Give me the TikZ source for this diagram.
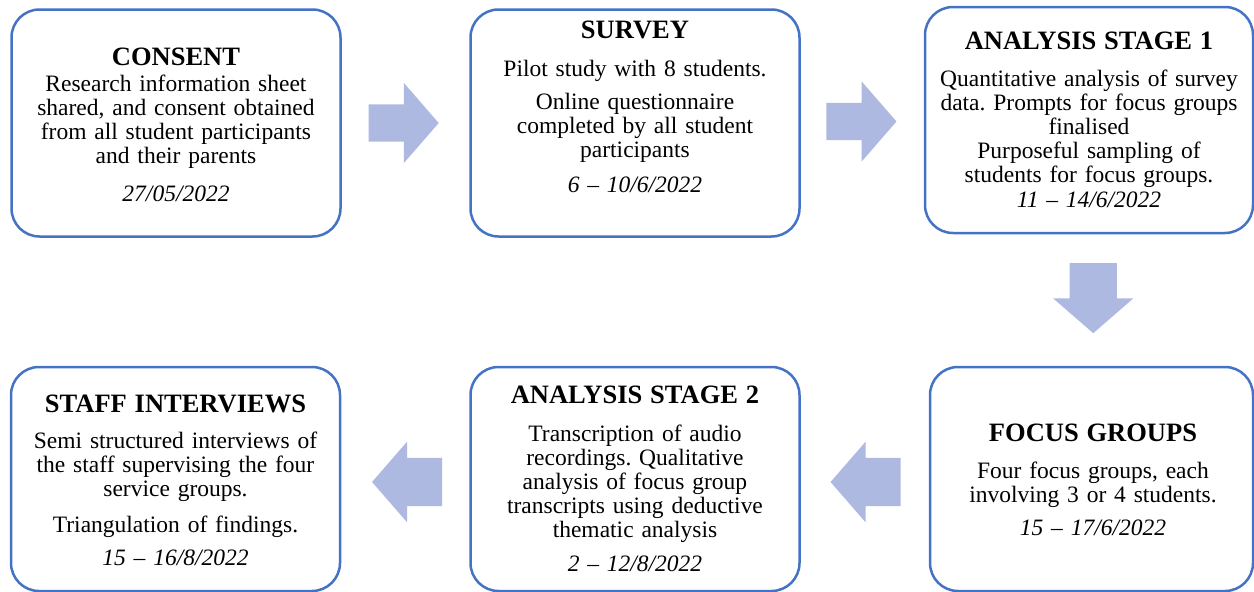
\documentclass[tikz,border=0pt]{standalone}
\usepackage{fontspec}
\setmainfont{Liberation Serif}
\usetikzlibrary{shapes.arrows, calc}
\definecolor{cborder}{HTML}{4472C4}
\definecolor{carrow}{HTML}{ADB9E0}
\newcommand{\stagetitle}[1]{{\fontsize{26.5}{24}\selectfont\bfseries #1}}
\frenchspacing
\tikzset{
  stage/.style={draw=cborder, line width=2.5pt, rounded corners=28pt, fill=white, minimum width=329pt, minimum height=#1, inner sep=0pt},
  stage/.default=227pt,
  stagetext/.style={anchor=base, text width=310pt, align=center, inner sep=0pt, font=\fontsize{23.5}{24}\selectfont},
  blockarrow/.style={single arrow, fill=carrow, draw=none, inner sep=#1, minimum height=70pt, minimum width=0pt, single arrow head extend={40pt-#1}, single arrow tip angle=98, anchor=tail},
}

\begin{document}
\begin{tikzpicture}[x=1pt, y=-1pt]
  \useasboundingbox (0,0) rectangle (1254,592);
  % top row
  \node[stage] (consent) at (176,123) {};
  \node[stage] (survey) at (635,123) {};
  \node[stage=226pt, minimum width=328pt] (stage1) at (1089,120) {};
  % bottom row
  \node[stage=224pt] (staff) at (175.5,479) {};
  \node[stage=224pt] (stage2) at (635,479) {};
  \node[stage=224pt, minimum width=323pt] (focus) at (1091.5,479) {};

  \node[stagetext] (consent-txt) at (176,65) {\stagetitle{CONSENT}\\[2pt]
    Research information sheet\\ shared, and consent obtained\\ from all student participants\\ and their parents\\[14pt]
    \textit{27/05/2022}};
  \node[stagetext] (survey-txt) at (635,38) {\stagetitle{SURVEY}\\[14pt]
    Pilot study with 8 students.\\[9pt]
    Online questionnaire\\ completed by all student\\ participants\\[11pt]
    \textit{6 \textendash{} 10/6/2022}};
  \node[stagetext] (stage1-txt) at (1089,49) {\stagetitle{ANALYSIS STAGE 1}\\[13pt]
    Quantitative analysis of survey\\ data. Prompts for focus groups\\ finalised\\ Purposeful sampling of\\ students for focus groups.\\[1pt]
    \textit{11 \textendash{} 14/6/2022}};
  \node[stagetext] (staff-txt) at (175.5,412) {\stagetitle{STAFF INTERVIEWS}\\[12pt]
    Semi structured interviews of\\ the staff supervising the four\\ service groups.\\[12pt]
    Triangulation of findings.\\[9pt]
    \textit{15 \textendash{} 16/8/2022}};
  \node[stagetext] (stage2-txt) at (635,403) {\stagetitle{ANALYSIS STAGE 2}\\[14pt]
    Transcription of audio\\ recordings. Qualitative\\ analysis of focus group\\ transcripts using deductive\\ thematic analysis\\[10pt]
    \textit{2 \textendash{} 12/8/2022}};
  \node[stagetext] (focus-txt) at (1093,441) {\stagetitle{FOCUS GROUPS}\\[13pt]
    Four focus groups, each\\ involving 3 or 4 students.\\[9pt]
    \textit{15 \textendash{} 17/6/2022}};

  % block arrows between the stages
  \node[blockarrow=18.5pt] (arr1) at ($(consent.east)!0.5!(survey.west)+(-37,0)$) {};
  \node[blockarrow=18.5pt] (arr2) at ($(survey.east)!0.5!(stage1.west)+(-36,0)$) {};
  \node[blockarrow=23.5pt, shape border rotate=270] (arr3) at ($(stage1.south)!0.5!(focus.north)+(3,-37)$) {};
  \node[blockarrow=24pt, shape border rotate=180] (arr4) at ($(focus.west)!0.5!(stage2.east)+(36,3)$) {};
  \node[blockarrow=24pt, shape border rotate=180] (arr5) at ($(stage2.west)!0.5!(staff.east)+(37,3)$) {};
\end{tikzpicture}
\end{document}
